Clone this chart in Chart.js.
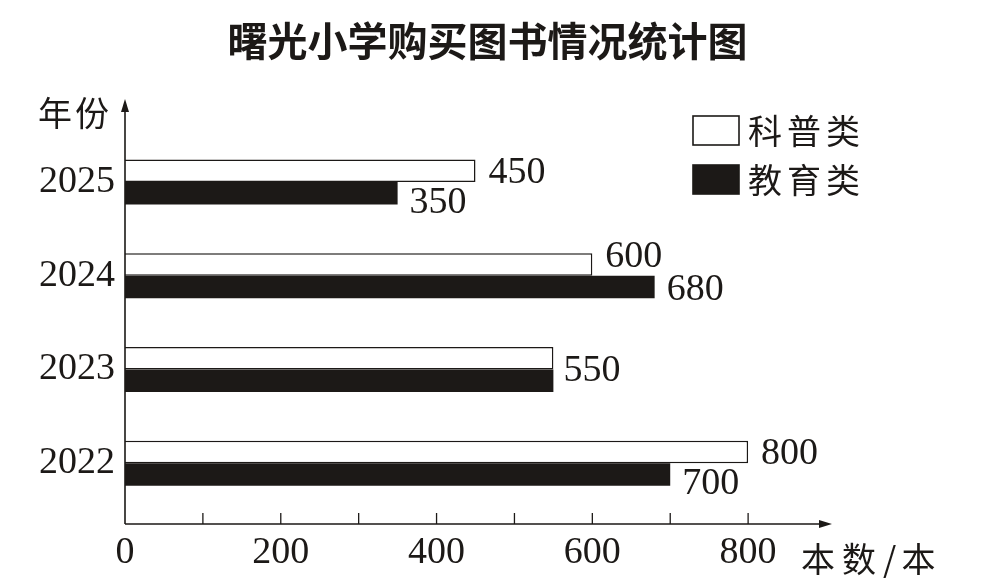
<!DOCTYPE html>
<html>
<head>
<meta charset="utf-8">
<script src="https://cdn.jsdelivr.net/npm/chart.js@4.4.1/dist/chart.umd.min.js"></script>
<style>
  html, body { margin: 0; padding: 0; background: #fff; }
</style>
</head>
<body>
<canvas id="bookChart" width="987" height="588"></canvas>
<script>
// data
const years = ['2025', '2024', '2023', '2022'];
const scienceBooks = [450, 600, 550, 800];
const educationBooks = [350, 680, 550, 700];
const xTickLabels = [0, 200, 400, 600, 800];
const seriesNames = ['科普类', '教育类'];

const ink = '#1c1917';
const serif = '"Liberation Serif", "Times New Roman", serif';
const cjk = '"Noto Sans CJK SC", sans-serif';

function spacedText(ctx, text, x, y, step) {
    let cx = x;
    [...text].forEach(ch => {
        ctx.fillText(ch, cx, y);
        cx += ch === '/' ? step * 0.45 : step;
    });
}

// arrows, tick marks and axis names
const axisDecor = {
    id: 'axisDecor',
    afterDatasetsDraw(chart) {
        const { ctx, chartArea, scales: { x } } = chart;
        const x0 = x.getPixelForValue(0);
        const axisY = chartArea.bottom + 14;
        const topY = chartArea.top - 36;
        const rightX = x.right + 6;
        ctx.save();
        ctx.strokeStyle = ink;
        ctx.fillStyle = ink;
        ctx.lineWidth = 1.6;
        ctx.beginPath();
        ctx.moveTo(x0, axisY);
        ctx.lineTo(x0, topY + 8);
        ctx.moveTo(x0, axisY);
        ctx.lineTo(rightX - 8, axisY);
        ctx.stroke();
        ctx.beginPath();
        ctx.moveTo(x0, topY);
        ctx.lineTo(x0 - 4, topY + 13);
        ctx.lineTo(x0 + 4, topY + 13);
        ctx.closePath();
        ctx.fill();
        ctx.beginPath();
        ctx.moveTo(rightX, axisY);
        ctx.lineTo(rightX - 13, axisY - 4);
        ctx.lineTo(rightX - 13, axisY + 4);
        ctx.closePath();
        ctx.fill();
        ctx.lineWidth = 1.3;
        x.ticks.forEach(t => {
            if (t.value <= 0 || t.value >= x.max) return;
            const px = x.getPixelForValue(t.value);
            ctx.beginPath();
            ctx.moveTo(px, axisY);
            ctx.lineTo(px, axisY - 11);
            ctx.stroke();
        });
        ctx.font = '34px ' + cjk;
        ctx.textBaseline = 'middle';
        ctx.textAlign = 'left';
        spacedText(ctx, '年份', 38, topY + 14, 37);
        spacedText(ctx, '本数/本', x.getPixelForValue(800) + 53, axisY + 35, 41);
        ctx.restore();
    }
};

// value labels next to the bar ends
const barValues = {
    id: 'barValues',
    afterDatasetsDraw(chart) {
        const { ctx } = chart;
        const sci = chart.getDatasetMeta(0).data;
        const edu = chart.getDatasetMeta(1).data;
        ctx.save();
        ctx.font = '38px ' + serif;
        ctx.fillStyle = ink;
        ctx.textAlign = 'left';
        ctx.textBaseline = 'middle';
        years.forEach((yr, i) => {
            const a = sci[i], b = edu[i];
            if (scienceBooks[i] === educationBooks[i]) {
                ctx.fillText(String(scienceBooks[i]), a.x + 10, (a.y + b.y) / 2 + 2);
                return;
            }
            let offA = 2, offB = 10;
            if (educationBooks[i] > scienceBooks[i]) { offA = -7; offB = 3; }
            ctx.fillText(String(scienceBooks[i]), a.x + 13, a.y + offA);
            ctx.fillText(String(educationBooks[i]), b.x + 12, b.y + offB);
        });
        ctx.restore();
    }
};

// legend in the upper right corner
const boxLegend = {
    id: 'boxLegend',
    afterDraw(chart) {
        const { ctx, chartArea } = chart;
        const left = chartArea.right - 133;
        const tops = [chartArea.top - 19, chartArea.top + 30];
        const fills = ['#ffffff', ink];
        ctx.save();
        ctx.font = '34px ' + cjk;
        ctx.textBaseline = 'middle';
        ctx.textAlign = 'left';
        seriesNames.forEach((name, i) => {
            ctx.fillStyle = fills[i];
            ctx.fillRect(left, tops[i], 46, 29);
            ctx.strokeStyle = ink;
            ctx.lineWidth = 1.6;
            ctx.strokeRect(left, tops[i], 46, 29);
            ctx.fillStyle = ink;
            spacedText(ctx, name, left + 55, tops[i] + 15, 39);
        });
        ctx.restore();
    }
};

new Chart(document.getElementById('bookChart'), {
    type: 'bar',
    data: {
        labels: years,
        datasets: [
            {
                label: seriesNames[0],
                data: scienceBooks,
                backgroundColor: '#ffffff',
                borderColor: ink,
                borderWidth: 1.5,
                borderSkipped: 'start'
            },
            {
                label: seriesNames[1],
                data: educationBooks,
                backgroundColor: ink,
                borderWidth: 0
            }
        ]
    },
    options: {
        indexAxis: 'y',
        responsive: false,
        animation: false,
        layout: { padding: { left: 0, right: 12, top: 0, bottom: 0 } },
        datasets: { bar: { categoryPercentage: 0.48, barPercentage: 1.0 } },
        scales: {
            x: {
                min: 0,
                max: 900,
                grid: { display: false },
                border: { display: false },
                ticks: {
                    stepSize: 100,
                    padding: 12,
                    color: ink,
                    font: { family: serif, size: 38 },
                    maxRotation: 0,
                    autoSkip: false,
                    callback: v => xTickLabels.includes(v) ? String(v) : ''
                },
                afterFit: s => { s.height = 78; }
            },
            y: {
                grid: { display: false },
                border: { display: false },
                ticks: {
                    padding: 2,
                    color: ink,
                    font: { family: serif, size: 38 }
                },
                afterFit: s => { s.width = 125; }
            },
            // empty strip on the right that holds the legend and the axis name
            rightSpace: {
                type: 'category',
                position: 'right',
                grid: { display: false },
                border: { display: false },
                ticks: { display: false },
                afterFit: s => { s.width = 149; }
            }
        },
        plugins: {
            legend: { display: false },
            tooltip: { enabled: false },
            title: {
                display: true,
                text: '曙光小学购买图书情况统计图',
                color: ink,
                font: { family: cjk, size: 40, weight: 'bold' },
                padding: { top: 17, bottom: 70 }
            }
        }
    },
    plugins: [axisDecor, barValues, boxLegend]
});
</script>
</body>
</html>
